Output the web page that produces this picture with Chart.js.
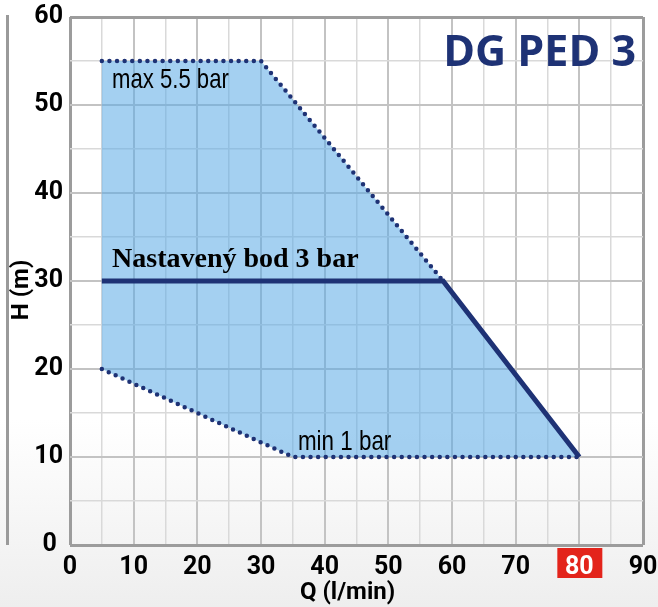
<!DOCTYPE html>
<html>
<head>
<meta charset="utf-8">
<script src="https://cdn.jsdelivr.net/npm/chart.js@4.4.1/dist/chart.umd.min.js"></script>
<style>
  html, body { margin: 0; padding: 0; background: #fff; }
  #wrap { width: 658px; height: 607px; }
</style>
</head>
<body>
<div id="wrap"><canvas id="chart"></canvas></div>
<script>
// operating envelope of the pump (Q in l/min, H in m)
const envelopeQ = [5, 30, 58.6, 80, 35, 5];
const envelopeH = [55, 55, 30, 10, 10, 20];
// dotted limits
const maxQ = [5, 30, 58.6];
const maxH = [55, 55, 30];
const minQ = [5, 35, 80];
const minH = [20, 10, 10];
// set point curve
const setQ = [5, 58.6, 80];
const setH = [30, 30, 10];

const xMin = 0, xMax = 90, xStep = 5;
const yMin = 0, yMax = 60, yStep = 5;
const highlightQ = 80;

const NAVY = '#1e3275';
const tickFont = "Roboto, 'Liberation Sans', sans-serif";

function pts(xs, ys) {
  return xs.map((x, i) => ({ x: x, y: ys[i] }));
}

function gridColor(min, max) {
  return (ctx) => {
    const v = ctx.tick.value;
    if (v === min || v === max) return '#9c9c9c';
    return v % 10 === 0 ? '#c3c3c3' : '#d9d9d9';
  };
}
function gridWidth(min, max) {
  return (ctx) => {
    const v = ctx.tick.value;
    if (v === min || v === max) return 3;
    return v % 10 === 0 ? 2 : 1.5;
  };
}

// condensed text: draw with a horizontal squeeze
function narrowText(c, text, x, y, sx) {
  c.save();
  c.translate(x, y);
  c.scale(sx, 1);
  c.fillText(text, 0, 0);
  c.restore();
}

const decor = {
  id: 'decor',
  beforeDraw(chart) {
    const c = chart.ctx;
    const x = chart.scales.x;
    c.save();
    const g = c.createLinearGradient(0, 420, 0, chart.height);
    g.addColorStop(0, '#ffffff');
    g.addColorStop(1, '#eeeeee');
    c.fillStyle = g;
    c.fillRect(0, 0, chart.width, chart.height);
    // decorative bar on the far left
    c.fillStyle = '#9a9a9a';
    c.fillRect(6, 15, 3, chart.chartArea.bottom - 15);
    // red box behind the 80 tick
    const px = x.getPixelForValue(highlightQ);
    c.fillStyle = '#e3241b';
    c.fillRect(px - 22, chart.chartArea.bottom + 3, 45, 30);
    c.restore();
  },
  afterDatasetsDraw(chart) {
    const c = chart.ctx;
    const x = chart.scales.x, y = chart.scales.y;
    c.save();
    c.textBaseline = 'alphabetic';
    c.textAlign = 'left';
    c.fillStyle = '#000';
    c.font = "28px 'Liberation Sans', Arial, sans-serif";
    narrowText(c, 'max 5.5 bar', x.getPixelForValue(6.6), y.getPixelForValue(51.9), 0.79);
    narrowText(c, 'min 1 bar', x.getPixelForValue(35.8), y.getPixelForValue(10.8), 0.8);
    c.font = "bold 28px 'Liberation Serif', 'DejaVu Serif', serif";
    c.fillText('Nastavený bod 3 bar', x.getPixelForValue(6.6), y.getPixelForValue(31.6));
    c.fillStyle = NAVY;
    c.font = "bold 43px 'Open Sans', 'Noto Sans', sans-serif";
    c.textAlign = 'right';
    c.fillText('DG PED 3', x.getPixelForValue(88.9), y.getPixelForValue(54.4));
    c.restore();
  }
};

new Chart(document.getElementById('chart'), {
  type: 'line',
  data: {
    datasets: [
      {
        data: pts(setQ, setH),
        fill: false,
        borderColor: NAVY,
        borderWidth: 5,
        borderJoinStyle: 'miter',
        pointRadius: 0
      },
      {
        data: pts(maxQ, maxH),
        fill: false,
        borderColor: NAVY,
        borderWidth: 4.5,
        borderDash: [0, 7.6],
        borderCapStyle: 'round',
        pointRadius: 0
      },
      {
        data: pts(minQ, minH),
        fill: false,
        borderColor: NAVY,
        borderWidth: 4.5,
        borderDash: [0, 7.6],
        borderCapStyle: 'round',
        pointRadius: 0
      },
      {
        data: pts(envelopeQ, envelopeH),
        fill: 'shape',
        backgroundColor: 'rgba(90, 170, 230, 0.55)',
        borderWidth: 0,
        pointRadius: 0
      }
    ]
  },
  options: {
    responsive: true,
    maintainAspectRatio: false,
    animation: false,
    layout: { padding: { top: 17, right: 15, left: 0, bottom: 0 } },
    plugins: {
      legend: { display: false },
      tooltip: { enabled: false }
    },
    scales: {
      x: {
        type: 'linear',
        min: xMin,
        max: xMax,
        afterFit: (s) => { s.height = 62; s.paddingLeft = 0; s.paddingRight = 0; },
        border: { display: false },
        grid: {
          color: gridColor(xMin, xMax),
          lineWidth: gridWidth(xMin, xMax),
          drawTicks: false
        },
        ticks: {
          stepSize: xStep,
          autoSkip: false,
          maxRotation: 0,
          padding: 8,
          color: (ctx) => ctx.tick.value === highlightQ ? '#ffffff' : '#000000',
          font: { family: tickFont, size: 25, weight: 'bold' },
          callback: (v) => v % 10 === 0 ? String(v) : ''
        },
        title: {
          display: true,
          text: 'Q (l/min)   ',
          color: '#000',
          padding: { top: 0, bottom: 0 },
          font: { family: tickFont, size: 24, weight: 'bold' }
        }
      },
      y: {
        type: 'linear',
        min: yMin,
        max: yMax,
        afterFit: (s) => { s.width = 70; s.paddingTop = 0; s.paddingBottom = 0; },
        border: { display: false },
        grid: {
          color: gridColor(yMin, yMax),
          lineWidth: gridWidth(yMin, yMax),
          drawTicks: false
        },
        ticks: {
          stepSize: yStep,
          autoSkip: false,
          padding: 7,
          color: '#000',
          font: { family: tickFont, size: 25, weight: 'bold' },
          callback: (v) => v % 10 === 0 ? (v === 0 ? '0 ' : String(v)) : ''
        },
        title: {
          display: true,
          text: 'H (m)   ',
          color: '#000',
          padding: { top: 8, bottom: 0 },
          font: { family: tickFont, size: 24, weight: 'bold' }
        }
      }
    }
  },
  plugins: [decor]
});
</script>
</body>
</html>
